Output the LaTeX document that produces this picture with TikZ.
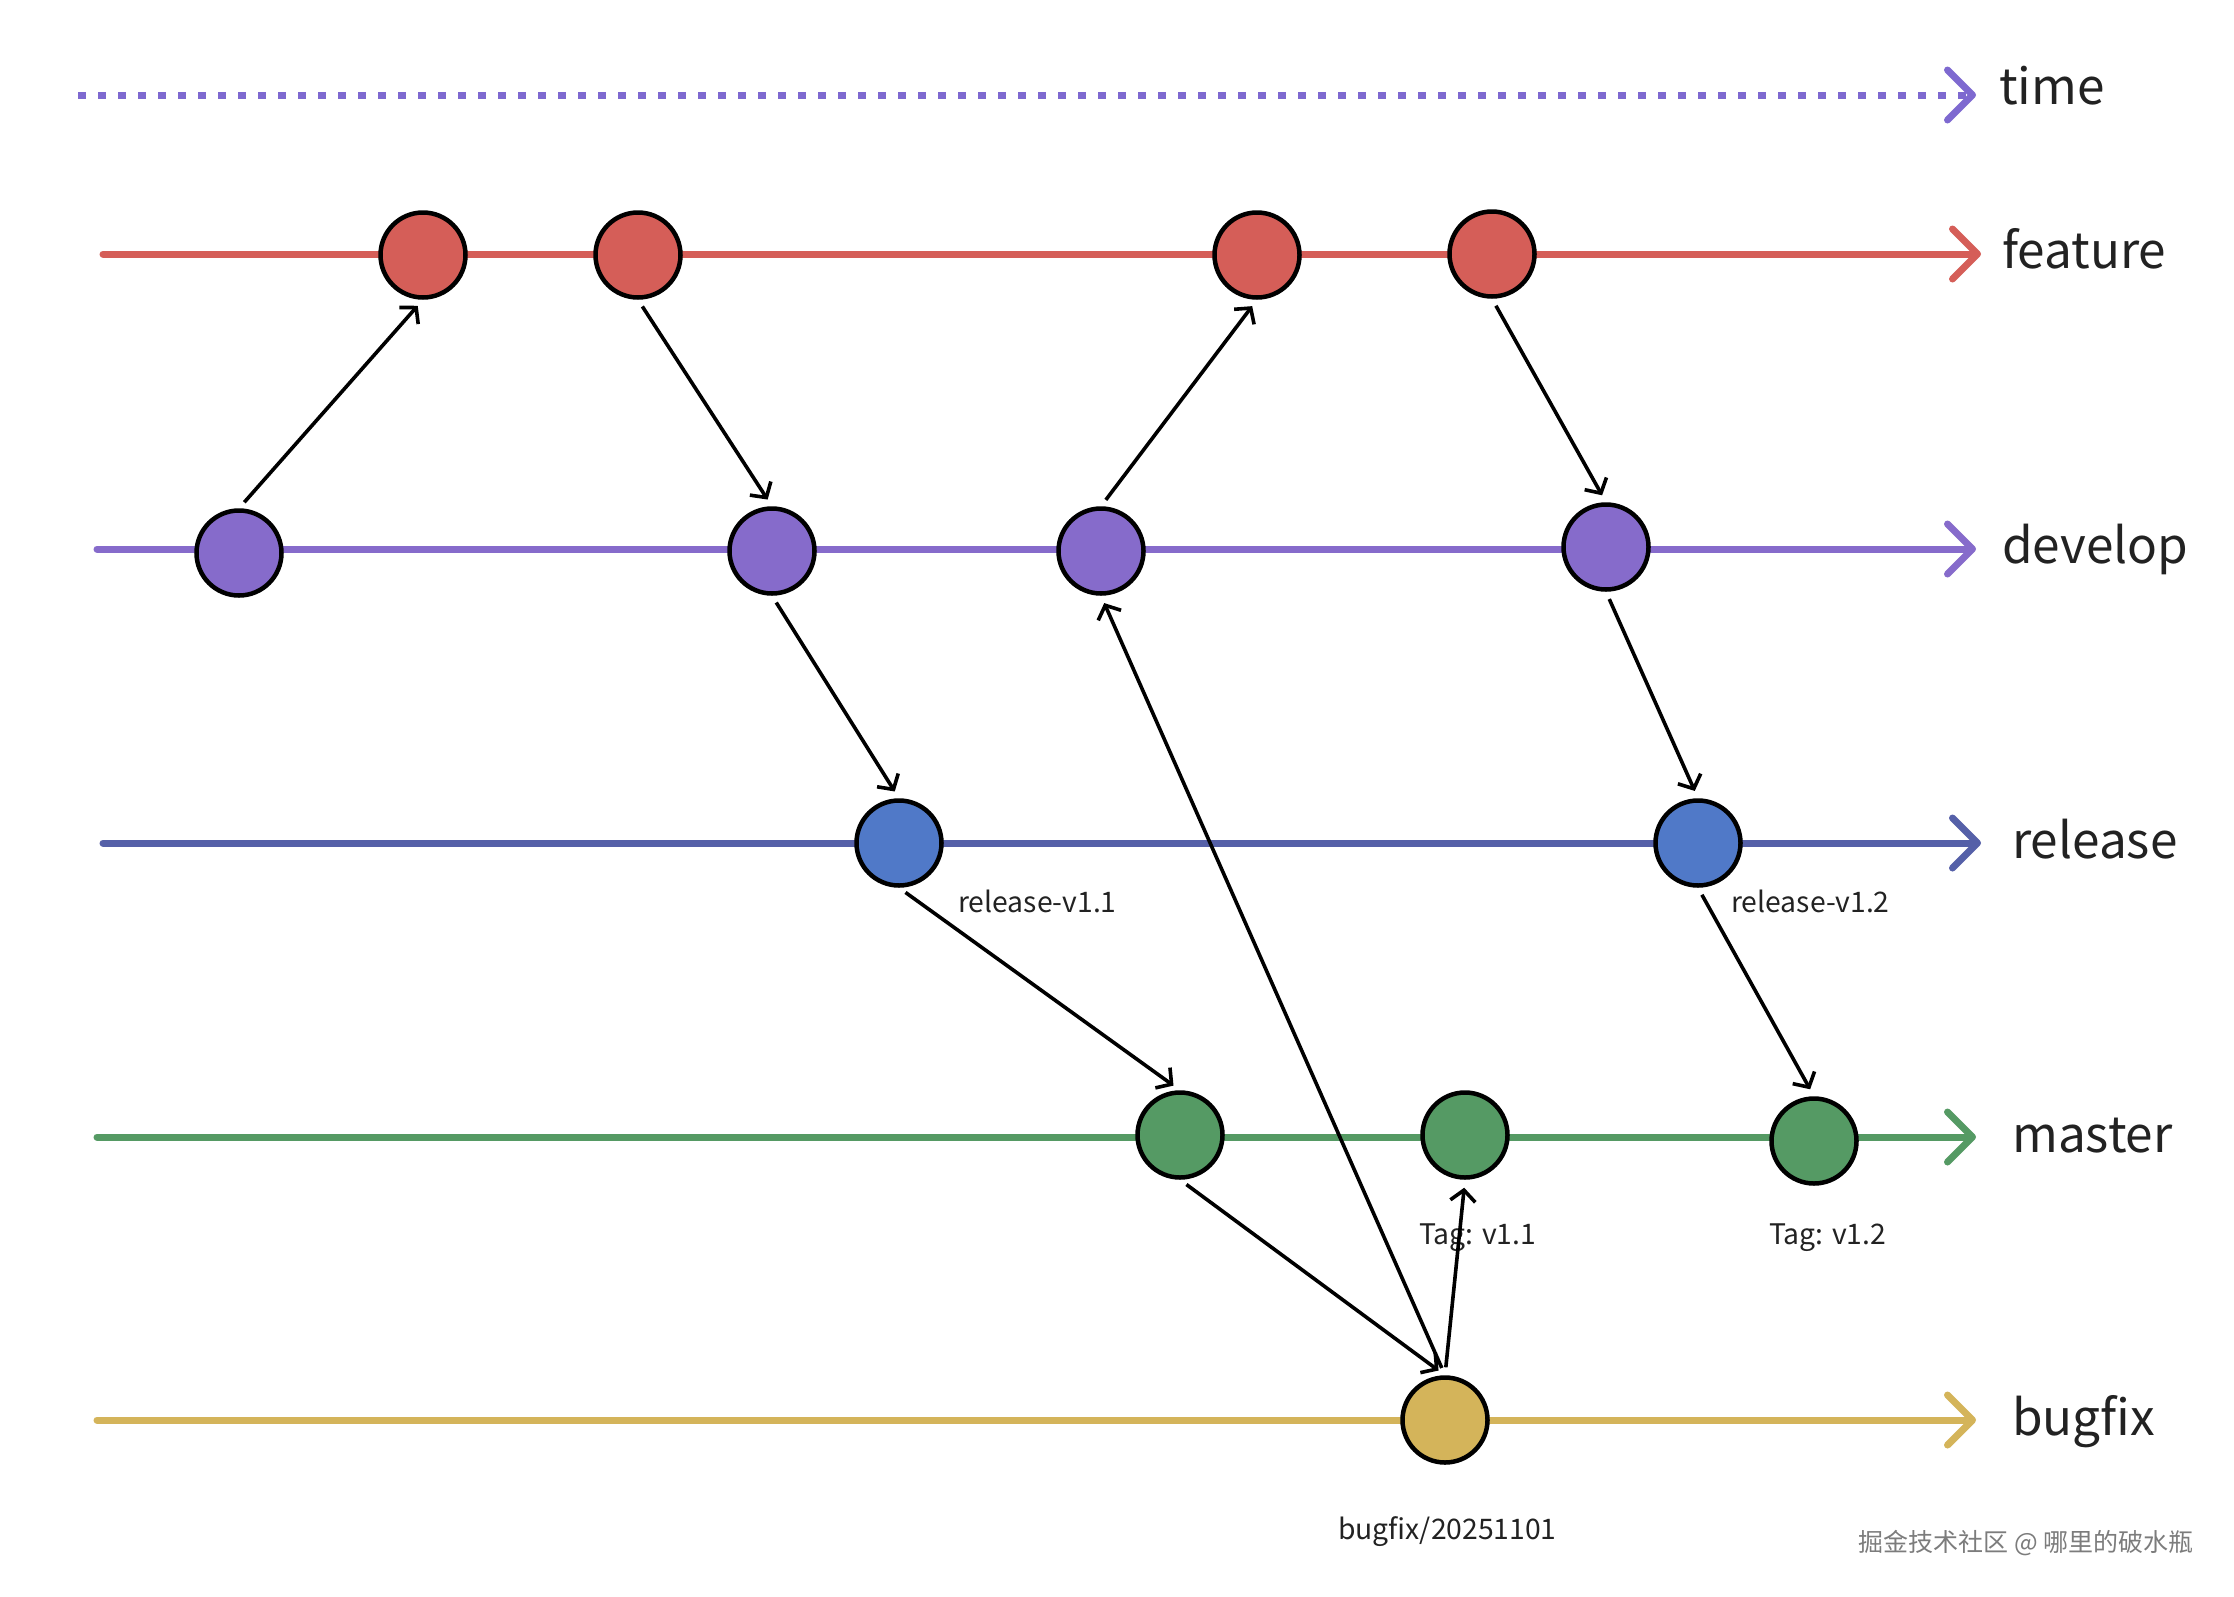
\documentclass[tikz,border=0pt]{standalone}
\usepackage{fontspec}
\setmainfont{Noto Sans CJK SC}
\usetikzlibrary{arrows.meta,calc}
\definecolor{ctime}{HTML}{7E69D0}
\definecolor{cfeat}{HTML}{D55E58}
\definecolor{cdev}{HTML}{866BCB}
\definecolor{creline}{HTML}{5560A8}
\definecolor{crel}{HTML}{5079C8}
\definecolor{cmas}{HTML}{559A64}
\definecolor{cbug}{HTML}{D4B45A}
\definecolor{textc}{HTML}{222222}
\definecolor{wmark}{HTML}{7C7C7C}
\begin{document}
\begin{tikzpicture}[x=1pt,y=-1pt,
  branchline/.style={line width=7pt, line cap=round, -{Straight Barb[length=25pt,width=50pt,round]}},
  commit/.style={circle, draw=black, line width=4.5pt, minimum size=85pt, inner sep=0pt},
  mergearrow/.style={draw=black, line width=3.6pt, -{Straight Barb[length=11pt,width=25pt]}, shorten <=8pt, shorten >=8pt},
  blabel/.style={anchor=base west, font=\fontsize{49.5}{58}\selectfont, text=textc, inner sep=0pt},
  slabel/.style={anchor=base west, font=\fontsize{28.3}{34}\selectfont, text=textc, inner sep=0pt}]
\useasboundingbox[fill=white] (0,0) rectangle (2234,1596);

% branch axes
\coordinate (ts) at (78,95);    \coordinate (te) at (1976,95);
\coordinate (fs) at (103,254);  \coordinate (fe) at (1981,254);
\coordinate (ds) at (97,549);   \coordinate (de) at (1976,549);
\coordinate (rs) at (103,843);  \coordinate (re) at (1981,843);
\coordinate (ms) at (97,1137);  \coordinate (me) at (1976,1137);
\coordinate (bs) at (97,1420);  \coordinate (be) at (1976,1420);

\draw[ctime, line width=7pt, dash pattern=on 8pt off 12pt, -{Straight Barb[length=25pt,width=50pt,round]}] (ts) -- (te);
\draw[branchline, cfeat] (fs) -- (fe);
\draw[branchline, cdev] (ds) -- (de);
\draw[branchline, creline] (rs) -- (re);
\draw[branchline, cmas] (ms) -- (me);
\draw[branchline, cbug] (bs) -- (be);

\node[blabel] (lt) at (1999,104) {time};
\node[blabel] (lf) at (2002,268) {feature};
\node[blabel] (ld) at (2002,563) {develop};
\node[blabel] (lr) at (2012,858) {release};
\node[blabel] (lm) at (2012,1152) {master};
\node[blabel] (lb) at (2012,1435) {bugfix};

% commits
\node[commit, fill=cfeat] (F1) at (423,255) {};
\node[commit, fill=cfeat] (F2) at (638,255) {};
\node[commit, fill=cfeat] (F3) at (1257,255) {};
\node[commit, fill=cfeat] (F4) at (1492,254) {};
\node[commit, fill=cdev] (D1) at (239,553) {};
\node[commit, fill=cdev] (D2) at (772,551) {};
\node[commit, fill=cdev] (D3) at (1101,551) {};
\node[commit, fill=cdev] (D4) at (1606,547) {};
\node[commit, fill=crel] (R1) at (899,843) {};
\node[commit, fill=crel] (R2) at (1698,843) {};
\node[commit, fill=cmas] (M1) at (1180,1135) {};
\node[commit, fill=cmas] (M2) at (1465,1135) {};
\node[commit, fill=cmas] (M3) at (1814,1141) {};
\node[commit, fill=cbug] (B1) at (1445,1420) {};

% labels
\node[slabel] (lr1) at (958,912) {release-v1.1};
\node[slabel] (lr2) at (1731,912) {release-v1.2};
\node[slabel] (lt1) at (1419,1244) {Tag: v1.1};
\node[slabel] (lt2) at (1769,1244) {Tag: v1.2};
\node[slabel] (lbf) at (1338,1539) {bugfix/20251101};
\node[anchor=base east, font=\fontsize{25}{30}\selectfont, text=wmark, inner sep=0pt] (wm) at (2194,1551) {掘金技术社区 @ 哪里的破水瓶};

% merges
\draw[mergearrow] (D1.north) -- (F1.south);
\draw[mergearrow] (F2.south) -- (D2.north);
\draw[mergearrow] (D3.north) -- (F3.south);
\draw[mergearrow] (F4.south) -- (D4.north);
\draw[mergearrow] (D2.south) -- (R1.north);
\draw[mergearrow] (D4.south) -- (R2.north);
\draw[mergearrow] (R1.south) -- (M1.north);
\draw[mergearrow] (R2.south) -- (M3.north);
\draw[mergearrow] (M1.south) -- (B1.north);
\draw[mergearrow] (B1.north) -- (D3.south);
\draw[mergearrow] (B1.north) -- (M2.south);
\end{tikzpicture}
\end{document}
